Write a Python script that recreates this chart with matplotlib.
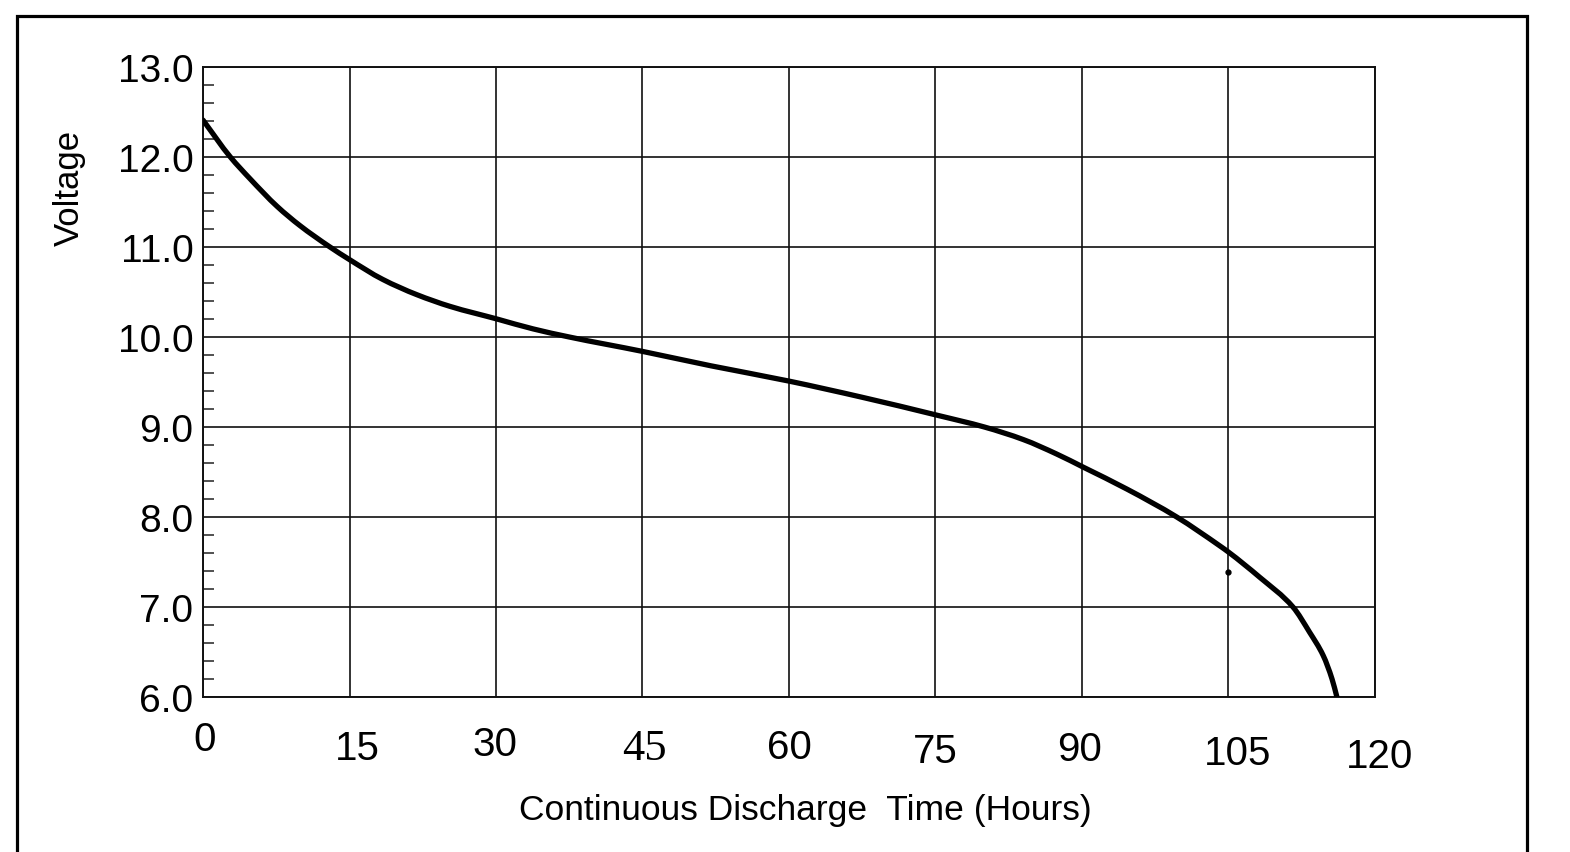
import matplotlib
matplotlib.use("Agg")
import matplotlib.pyplot as plt
import matplotlib.transforms as mtransforms
from matplotlib.patches import Rectangle, PathPatch
from matplotlib.path import Path
import numpy as np

# ---- data ----
hours = [0, 2.8, 4.8, 7.6, 9.9, 13.0, 15.0, 18.4, 21.9, 25.3, 30.1, 33.8, 37.5,
         45, 52, 60, 67.5, 75.2, 80, 84, 87.4, 90.2, 94.6, 99.7, 104.1, 105,
         108.2, 111.6, 113.3, 114.7, 115.6, 116.1]
voltage = [12.41, 12.0, 11.76, 11.45, 11.24, 11.0, 10.86, 10.64, 10.47, 10.34, 10.2, 10.09, 10.0,
           9.84, 9.68, 9.51, 9.33, 9.13, 9.0, 8.86, 8.7, 8.55, 8.31, 8.0, 7.68, 7.61,
           7.33, 7.0, 6.72, 6.46, 6.2, 6.0]
dot_hours = [105]
dot_voltage = [7.39]

x_ticks = [0, 15, 30, 45, 60, 75, 90, 105, 120]
x_tick_labels = ["0", "15", "30", "45", "60", "75", "90", "105", "120"]
y_ticks = [6.0, 7.0, 8.0, 9.0, 10.0, 11.0, 12.0, 13.0]
y_tick_labels = ["6.0", "7.0", "8.0", "9.0", "10.0", "11.0", "12.0", "13.0"]
x_label = "Continuous Discharge  Time (Hours)"
y_label = "Voltage"

# ---- style / layout ----
W, H, DPI = 1570, 853, 100
fig = plt.figure(figsize=(W / DPI, H / DPI), dpi=DPI)
fig.patch.set_facecolor("white")

# outer frame (bottom edge runs off the image)
fig.patches.append(Rectangle((17 / W, -0.05), (1527 - 17) / W, 1.05 - 17 / H,
                             transform=fig.transFigure, fill=False,
                             edgecolor="black", linewidth=2.3, zorder=0))

ax = fig.add_axes([203 / W, 1 - 698 / H, (1375 - 203) / W, (698 - 68) / H])
ax.set_xlim(0, 120)
ax.set_ylim(6, 13)

ax.grid(True, color="#111111", linewidth=1.2)
ax.set_axisbelow(True)
for s in ax.spines.values():
    s.set_linewidth(1.4)
    s.set_color("#111111")


def smooth_path(xs, ys):
    """Monotone (PCHIP-style) Hermite curve through the points, as Bezier segments."""
    x = np.asarray(xs, float)
    y = np.asarray(ys, float)
    n = len(x)
    h = np.diff(x)
    d = np.diff(y) / h
    m = np.empty(n)
    m[0], m[-1] = d[0], d[-1]
    for k in range(1, n - 1):
        if d[k - 1] * d[k] <= 0:
            m[k] = 0.0
        else:
            w1 = 2 * h[k] + h[k - 1]
            w2 = h[k] + 2 * h[k - 1]
            m[k] = (w1 + w2) / (w1 / d[k - 1] + w2 / d[k])
    verts = [(x[0], y[0])]
    codes = [Path.MOVETO]
    for k in range(n - 1):
        verts += [(x[k] + h[k] / 3, y[k] + m[k] * h[k] / 3),
                  (x[k + 1] - h[k] / 3, y[k + 1] - m[k + 1] * h[k] / 3),
                  (x[k + 1], y[k + 1])]
        codes += [Path.CURVE4] * 3
    return Path(verts, codes)


ax.add_patch(PathPatch(smooth_path(hours, voltage), facecolor="none", edgecolor="black",
                       linewidth=3.8, capstyle="round", joinstyle="round", zorder=3))
ax.plot(dot_hours, dot_voltage, "o", color="black", markersize=3.5, zorder=3)

# y ticks
ax.set_yticks(y_ticks)
ax.set_yticklabels(y_tick_labels, fontsize=28, fontfamily="Liberation Sans")
ax.set_yticks(np.arange(6.0, 13.0001, 0.2), minor=True)
ax.tick_params(axis="y", which="major", length=0, pad=7)
ax.tick_params(axis="y", which="minor", direction="in", length=8, width=1.2, color="#333333")

# x ticks: labels placed individually (reference has uneven label offsets)
ax.set_xticks(x_ticks)
ax.set_xticklabels([])
ax.tick_params(axis="x", which="major", length=0)
label_dx = [2, 8, -1, 2, 0, 0, -2, 9, 5]          # pixel offsets
label_dy = [42, 51, 47, 51, 50, 54, 52, 56, 59]   # pixels below axis bottom
for xv, lab, dx, dy in zip(x_ticks, x_tick_labels, label_dx, label_dy):
    tr = mtransforms.blended_transform_factory(ax.transData, ax.transAxes) + \
        mtransforms.ScaledTranslation(dx / DPI, -dy / DPI, fig.dpi_scale_trans)
    if lab == "45":
        ax.text(xv, 0, lab, transform=tr, ha="center", va="center",
                fontsize=32, fontfamily="Liberation Serif")
    else:
        ax.text(xv, 0, lab, transform=tr, ha="center", va="center",
                fontsize=29, fontfamily="Liberation Sans")

fig.text(805 / W, 1 - 811 / H, x_label, ha="center", va="center",
         fontsize=25.5, fontfamily="Liberation Sans")
fig.text(69 / W, 1 - 188 / H, y_label, ha="center", va="center", rotation=90,
         fontsize=25, fontfamily="Liberation Sans")

fig.savefig("out.png", dpi=DPI, facecolor="white")
